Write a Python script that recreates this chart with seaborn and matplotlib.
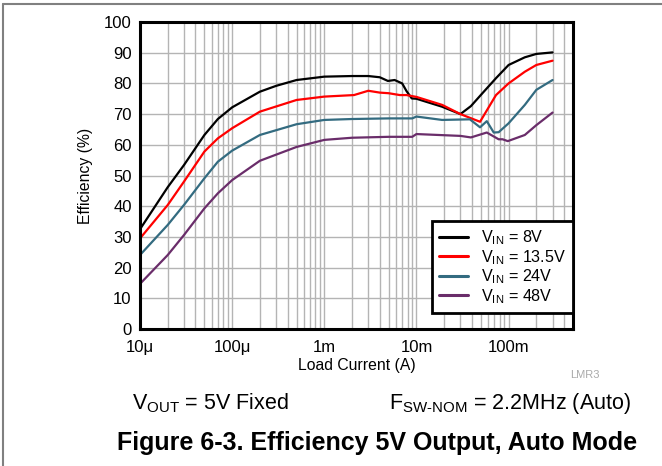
"""Efficiency vs load current, 5V output, auto mode."""

import pandas as pd
import matplotlib
matplotlib.use("Agg")
import matplotlib.pyplot as plt
from matplotlib.lines import Line2D
from matplotlib.ticker import FixedLocator, LogLocator, NullFormatter
import seaborn as sns

# --- data ---
cur_8 = [1e-5, 2e-5, 3e-5, 5e-5, 7e-5, 1e-4, 2e-4, 3e-4, 5e-4, 1e-3, 2e-3, 3e-3, 4e-3,
         4.9e-3, 5.8e-3, 7e-3, 7.8e-3, 8.9e-3, 1e-2, 1.9e-2, 3e-2, 3.9e-2, 5.2e-2, 7.3e-2,
         0.1, 0.15, 0.2, 0.3]
eff_8 = [32.5, 46.2, 53.4, 63.2, 68.4, 72.2, 77.3, 79.2, 81.1, 82.2, 82.4, 82.4, 82.0,
         80.8, 81.1, 80.0, 77.5, 75.1, 75.0, 72.4, 70.0, 72.6, 76.8, 81.7,
         86.0, 88.5, 89.6, 90.1]

cur_13 = [1e-5, 2e-5, 3e-5, 5e-5, 7e-5, 1e-4, 2e-4, 5e-4, 1e-3, 2.1e-3, 3e-3, 4e-3, 5e-3,
          6.6e-3, 7.8e-3, 1e-2, 1.9e-2, 3e-2, 4.9e-2, 7.3e-2, 0.1, 0.15, 0.2, 0.3]
eff_13 = [29.5, 40.4, 48.0, 57.8, 62.1, 65.4, 70.8, 74.6, 75.7, 76.2, 77.6, 77.0, 76.8,
          76.2, 76.2, 75.6, 73.0, 70.0, 67.5, 76.2, 80.0, 83.8, 86.0, 87.4]

cur_24 = [1e-5, 2e-5, 3e-5, 5e-5, 7e-5, 1e-4, 2e-4, 5e-4, 1e-3, 2e-3, 5e-3, 9e-3, 1e-2,
          1.9e-2, 3.8e-2, 4.9e-2, 5.8e-2, 6.9e-2, 7.8e-2, 0.1, 0.15, 0.2, 0.3]
eff_24 = [24.1, 33.9, 40.4, 49.1, 54.5, 58.1, 63.2, 66.7, 68.1, 68.4, 68.6, 68.6, 69.2,
          68.1, 68.3, 65.7, 67.7, 64.0, 64.1, 67.0, 73.0, 77.9, 81.1]

cur_48 = [1e-5, 2e-5, 3e-5, 5e-5, 7e-5, 1e-4, 2e-4, 5e-4, 1e-3, 2e-3, 5e-3, 9e-3, 1e-2,
          3e-2, 3.9e-2, 5.8e-2, 7.8e-2, 8.6e-2, 9.8e-2, 0.15, 0.2, 0.3]
eff_48 = [14.7, 24.1, 30.6, 39.3, 44.2, 48.5, 54.8, 59.3, 61.6, 62.3, 62.6, 62.6, 63.5,
          62.9, 62.4, 64.0, 61.8, 61.8, 61.2, 63.2, 66.4, 70.5]

series_names = ["8V", "13.5V", "24V", "48V"]
series_colors = ["#000000", "#ff0000", "#336b80", "#6a2d6a"]
x_ticks = [1e-5, 1e-4, 1e-3, 1e-2, 1e-1]
x_tick_labels = ["10\u03bc", "100\u03bc", "1m", "10m", "100m"]

frames = []
for name, cur, eff in zip(series_names, [cur_8, cur_13, cur_24, cur_48],
                          [eff_8, eff_13, eff_24, eff_48]):
    frames.append(pd.DataFrame({"current": cur, "eff": eff, "vin": name}))
df = pd.concat(frames, ignore_index=True)

sns.set_style("white")
plt.rcParams["font.family"] = ["Liberation Sans", "DejaVu Sans"]
plt.rcParams["mathtext.fontset"] = "custom"
plt.rcParams["mathtext.rm"] = "Liberation Sans"
plt.rcParams["mathtext.it"] = "Liberation Sans"
plt.rcParams["text.color"] = "black"

fig = plt.figure(figsize=(6.62, 4.66), dpi=100)
ax = fig.add_axes([140 / 662, 1 - 329 / 466, 433 / 662, 307 / 466])

sns.lineplot(data=df, x="current", y="eff", hue="vin", hue_order=series_names,
             palette=series_colors, estimator=None, linewidth=1.6, ax=ax, legend=False)

ax.set_xscale("log")
ax.set_xlim(1e-5, 0.5)
ax.set_ylim(0, 100)
ax.set_yticks(range(0, 101, 10))
ax.xaxis.set_major_locator(FixedLocator(x_ticks))
ax.set_xticklabels(x_tick_labels)
ax.xaxis.set_minor_locator(LogLocator(base=10, subs=range(2, 10), numticks=20))
ax.xaxis.set_minor_formatter(NullFormatter())
ax.grid(True, which="both", color="#b4b4b4", linewidth=1.0)
ax.set_axisbelow(True)
ax.tick_params(axis="both", which="both", length=0, labelsize=12, colors="black")
ax.tick_params(axis="y", pad=6)
ax.tick_params(axis="x", pad=8)
for s in ax.spines.values():
    s.set_visible(True)
    s.set_color("black")
    s.set_linewidth(2.2)

ax.set_xlabel("Load Current (A)", fontsize=11.3, labelpad=2, color="black")
ax.set_ylabel("Efficiency (%)", fontsize=11.3, labelpad=8, color="black")

handles = [Line2D([], [], color=c, linewidth=2.2) for c in series_colors]
labels = [f"V$_{{\\mathrm{{IN}}}}$ = {n}" for n in series_names]
leg = ax.legend(handles, labels, loc="lower right", bbox_to_anchor=(1.0, 0.052),
                borderaxespad=0, fontsize=11.6, frameon=True, fancybox=False,
                framealpha=1, edgecolor="black", handlelength=1.8,
                labelspacing=0.05, borderpad=0.45, handletextpad=0.8)
leg.get_frame().set_linewidth(2.0)

# figure border lines
fig.add_artist(Line2D([3 / 662, 1], [1 - 4 / 466, 1 - 4 / 466], color="#808080",
                      linewidth=1.5, transform=fig.transFigure))
fig.add_artist(Line2D([3 / 662, 3 / 662], [0, 1 - 4 / 466], color="#808080",
                      linewidth=1.5, transform=fig.transFigure))

fig.text(585 / 662, 1 - 375 / 466, "LMR3", fontsize=8, color="#aaaaaa",
         ha="center", va="center")
fig.text(210 / 662, 1 - 403 / 466, "V$_{\\mathrm{OUT}}$ = 5V Fixed", fontsize=15.5,
         ha="center", va="center")
fig.text(510 / 662, 1 - 403 / 466, "F$_{\\mathrm{SW\\text{-}NOM}}$ = 2.2MHz (Auto)",
         fontsize=15.5, ha="center", va="center")
fig.text(377 / 662, 1 - 443 / 466, "Figure 6-3. Efficiency 5V Output, Auto Mode",
         fontsize=18, fontweight="bold", ha="center", va="center")

plt.savefig("out.png", dpi=100)
plt.close()
